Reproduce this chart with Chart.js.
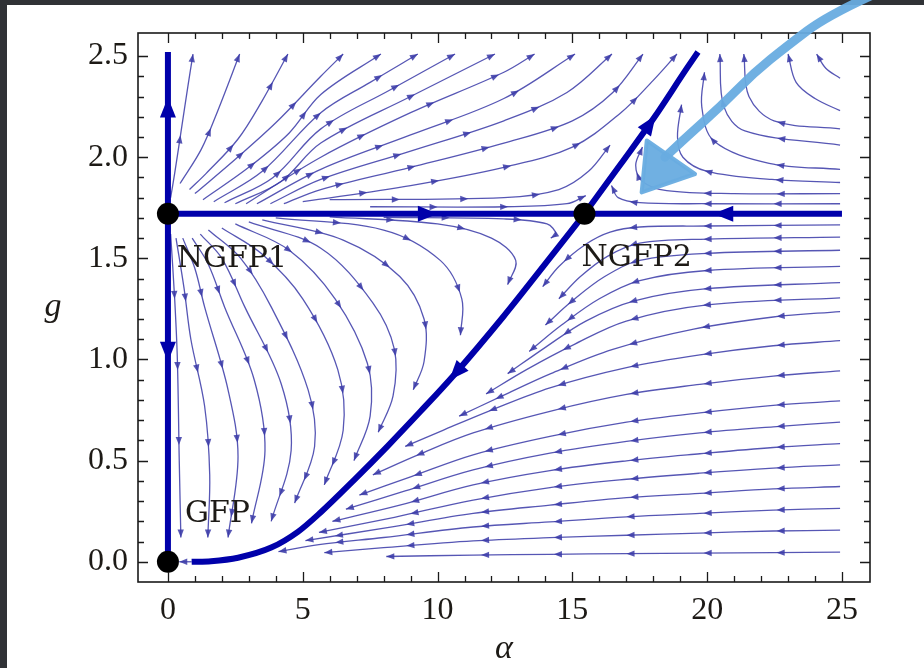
<!DOCTYPE html>
<html>
<head>
<meta charset="utf-8">
<script src="https://cdn.jsdelivr.net/npm/chart.js@4.4.1/dist/chart.umd.min.js"></script>
<style>
  html, body { margin: 0; padding: 0; background: #303236; }
  canvas { display: block; }
</style>
</head>
<body>
<canvas id="flow" width="924" height="668"></canvas>
<script>
// ---- axes ----
const alphaTicks = [0, 5, 10, 15, 20, 25];
const gTicks = [0, 0.5, 1.0, 1.5, 2.0, 2.5];
const alphaRange = [-1.11, 26.04];
const gRange = [-0.1, 2.614];

// ---- fixed points (alpha, g) ----
const pointNames = ['GFP', 'NGFP1', 'NGFP2'];
const pointAlpha = [0, 0, 15.45];
const pointG = [0, 1.72, 1.72];
// label anchors (left edge, baseline)
const labelAlpha = [0.63, 0.33, 15.34];
const labelG = [0.199, 1.458, 1.46];

// ---- invariant lines and separatrix, listed in flow direction ----
const axisUp = [[0, 1.72], [0, 2.52]];
const axisDown = [[0, 1.72], [0, 0]];
const gStarRight = [[0, 1.72], [15.45, 1.72]];
const gStarLeft = [[25, 1.72], [15.45, 1.72]];
const sepUp = [[15.45, 1.72], [16.79, 1.965], [18.03, 2.195], [19.25, 2.44], [19.66, 2.52]];
const sepDown = [[15.45, 1.72], [13.95, 1.465], [12.46, 1.215], [10.62, 0.925], [9.38, 0.745], [8.15, 0.572],
  [6.91, 0.405], [5.67, 0.245], [4.82, 0.148], [3.83, 0.07], [2.6, 0.02], [1.6, 0.003], [0.88, 0.0]];
// arrow tips on the thick lines
const thickArrowTips = [[0, 2.31], [0, 1.0], [10.1, 1.72], [20.35, 1.72], [18.1, 2.21], [10.45, 0.9]];

// ---- streamlines (alpha, g), each listed in flow direction ----
// leaving NGFP1 upwards, exiting through the top
const fanAbove = [
  [[0.1, 1.80], [0.25, 1.92], [0.49, 2.13], [0.74, 2.35], [0.93, 2.51]],
  [[0.45, 1.87], [1.24, 2.04], [1.85, 2.23], [2.66, 2.51]],
  [[0.8, 1.84], [1.42, 1.92], [2.6, 2.09], [3.5, 2.28], [4.45, 2.51]],
  [[1.0, 1.82], [2.5, 1.99], [4.0, 2.17], [5.67, 2.40], [6.5, 2.51]],
  [[1.3, 1.79], [3.0, 1.95], [4.5, 2.12], [5.67, 2.31], [7.9, 2.51]],
  [[1.7, 1.78], [3.5, 1.93], [5.67, 2.22], [7.5, 2.37], [9.27, 2.51]],
  [[2.1, 1.775], [3.9, 1.90], [5.67, 2.14], [8.2, 2.33], [10.65, 2.51]],
  [[2.5, 1.77], [4.2, 1.88], [5.67, 2.07], [9.0, 2.30], [12.13, 2.51]],
  [[2.9, 1.77], [5.67, 2.0], [9.0, 2.22], [12.46, 2.42], [13.6, 2.51]],
  [[3.3, 1.77], [5.67, 1.94], [9.0, 2.11], [12.46, 2.29], [15.1, 2.51]],
  [[3.8, 1.77], [5.67, 1.89], [9.0, 2.03], [12.46, 2.18], [14.8, 2.32], [16.47, 2.51]],
  [[4.3, 1.77], [5.67, 1.84], [9.0, 1.95], [12.46, 2.07], [15.0, 2.18], [16.5, 2.32], [17.62, 2.51]],
  [[5.0, 1.78], [9.0, 1.86], [12.46, 1.95], [15.0, 2.05], [16.8, 2.22], [18.0, 2.38], [18.88, 2.51]],
  [[6.0, 1.79], [12.46, 1.80], [14.5, 1.84], [15.6, 1.93], [16.4, 2.06]],
  [[7.5, 1.755], [12.5, 1.755], [14.8, 1.77], [15.5, 1.81]]
];
// coming in from large alpha above g*, turning up
const sweepAbove = [
  [[24.93, 2.39], [24.4, 2.44], [24.06, 2.51]],
  [[24.93, 2.23], [24.0, 2.29], [23.3, 2.37], [23.0, 2.51]],
  [[24.93, 2.14], [22.48, 2.18], [21.55, 2.30], [21.36, 2.51]],
  [[24.93, 2.06], [21.4, 2.13], [20.62, 2.25], [20.47, 2.51]],
  [[24.93, 1.94], [22.3, 1.97], [20.25, 2.08], [19.8, 2.25], [19.9, 2.42]],
  [[24.93, 1.875], [22.4, 1.89], [20.0, 1.93], [19.1, 2.0], [18.9, 2.1], [19.05, 2.26]],
  [[24.93, 1.82], [21, 1.82], [18.5, 1.835], [17.6, 1.88], [17.35, 1.96], [17.6, 2.05]],
  [[24.93, 1.77], [20, 1.77], [17.5, 1.775], [16.7, 1.80], [16.45, 1.86]]
];
// leaving NGFP1 downwards, bending back towards the GFP
const fanBelow = [
  [[0.1, 1.62], [0.25, 1.3], [0.35, 1.0], [0.42, 0.5], [0.48, 0.12]],
  [[0.3, 1.6], [0.6, 1.35], [0.85, 1.10], [1.36, 0.77], [1.55, 0.43], [1.48, 0.12]],
  [[0.55, 1.6], [1.0, 1.45], [1.36, 1.26], [2.23, 0.85], [2.6, 0.52], [2.23, 0.12]],
  [[0.9, 1.6], [1.5, 1.47], [2.1, 1.26], [3.2, 0.9], [3.6, 0.55], [3.1, 0.19]],
  [[1.2, 1.62], [2.0, 1.5], [2.85, 1.26], [4.2, 0.88], [4.57, 0.55], [3.83, 0.20]],
  [[1.5, 1.64], [2.7, 1.5], [3.83, 1.26], [5.2, 0.85], [5.44, 0.57], [4.7, 0.29]],
  [[2.0, 1.65], [3.5, 1.52], [5.0, 1.3], [6.3, 0.95], [6.5, 0.65], [5.8, 0.38]],
  [[2.5, 1.67], [4.5, 1.54], [6.2, 1.3], [7.4, 0.98], [7.5, 0.72], [6.9, 0.5]],
  [[3.0, 1.68], [5.67, 1.55], [7.6, 1.28], [8.4, 1.05], [8.35, 0.82], [7.8, 0.64]],
  [[3.5, 1.69], [6.5, 1.59], [8.6, 1.41], [9.5, 1.2], [9.5, 0.99], [9.1, 0.85]],
  [[4.0, 1.70], [8.0, 1.64], [10.1, 1.49], [10.9, 1.3], [10.85, 1.12]],
  [[6.0, 1.705], [10.0, 1.67], [12.0, 1.60], [12.9, 1.49], [12.6, 1.37]],
  [[8.0, 1.703], [12.46, 1.695], [14.06, 1.67], [14.4, 1.62], [14.2, 1.60]]
];
// coming in from large alpha below g*, drifting down towards the GFP
const sweepBelow = [
  [[24.93, 1.665], [20, 1.66], [17.5, 1.655], [16.4, 1.63], [15.5, 1.57], [14.5, 1.46], [13.9, 1.36]],
  [[24.93, 1.605], [20, 1.595], [17.5, 1.575], [16.3, 1.51], [15.3, 1.41], [14.5, 1.30]],
  [[24.93, 1.54], [20, 1.525], [17.5, 1.49], [16.2, 1.41], [15.0, 1.29], [14.0, 1.17]],
  [[24.93, 1.46], [20, 1.44], [17.5, 1.39], [16.0, 1.30], [14.6, 1.17], [13.4, 1.04]],
  [[24.93, 1.38], [20, 1.35], [17.3, 1.29], [15.5, 1.19], [14.0, 1.06], [12.6, 0.93]],
  [[24.93, 1.305], [20, 1.27], [17, 1.19], [15, 1.07], [13.3, 0.95], [11.8, 0.83]],
  [[24.93, 1.237], [22.45, 1.21], [19.5, 1.15], [16.5, 1.05], [14.2, 0.93], [12.4, 0.82], [10.8, 0.72]],
  [[24.93, 1.093], [22.45, 1.068], [19.73, 1.023], [17.01, 0.960], [14.17, 0.86], [12.0, 0.75], [10.2, 0.65], [8.8, 0.57]],
  [[24.93, 0.944], [22.45, 0.918], [19.73, 0.877], [17.01, 0.827], [14.17, 0.744], [11.32, 0.637], [9.3, 0.53], [7.6, 0.43]],
  [[24.93, 0.795], [22.45, 0.773], [19.73, 0.736], [17.01, 0.690], [14.17, 0.620], [11.32, 0.529], [9.0, 0.42], [7.1, 0.33]],
  [[24.93, 0.690], [22.45, 0.667], [19.73, 0.637], [17.01, 0.595], [14.17, 0.537], [11.32, 0.454], [8.8, 0.35], [6.6, 0.26]],
  [[24.93, 0.584], [22.45, 0.565], [19.73, 0.534], [17.01, 0.499], [14.17, 0.451], [11.32, 0.380], [8.6, 0.28], [6.1, 0.20]],
  [[24.93, 0.479], [22.45, 0.463], [19.73, 0.438], [17.01, 0.408], [14.17, 0.367], [11.32, 0.305], [8.4, 0.22], [5.6, 0.145]],
  [[24.93, 0.372], [22.45, 0.360], [19.73, 0.338], [17.01, 0.317], [14.17, 0.280], [11.32, 0.239], [8.2, 0.17], [5.1, 0.105]],
  [[24.93, 0.264], [22.45, 0.255], [19.73, 0.239], [17.01, 0.222], [14.17, 0.197], [11.32, 0.172], [8.0, 0.12], [5.6, 0.085], [4.1, 0.05]],
  [[24.93, 0.156], [22.45, 0.152], [19.73, 0.142], [17.01, 0.131], [14.17, 0.119], [11.32, 0.103], [8.0, 0.07], [5.8, 0.045]],
  [[24.93, 0.048], [22.45, 0.045], [19.73, 0.043], [17.01, 0.040], [14.17, 0.037], [11.32, 0.033], [8.1, 0.026]]
];
// last stretch into the GFP along g = 0
const intoGFP = [
  [[0.88, 0.0], [0.42, 0.0]]
];

// hand-drawn pointer (alpha, g), shaft then head
const pointerShaft = [[26.04, 2.796], [24.43, 2.697], [22.96, 2.549], [21.72, 2.416], [20.49, 2.25], [19.25, 2.101], [18.43, 2.0]];
const pointerHead = [[17.57, 1.826], [17.76, 2.083], [19.55, 1.917]];

// ---- styling ----
const thinColor = 'rgba(58,58,168,0.86)';
const thickColor = '#0000aa';
const tickFont = { family: '"Liberation Serif", "Times New Roman", serif', size: 32 };
const labelFont = '30px "DejaVu Serif", serif';
const titleFont = 'italic 34px "Liberation Serif", serif';
const inkColor = '#1d1a16';

const toXY = pts => pts.map(([a, g]) => ({ x: a, y: g }));

const datasets = [];
// fixed points drawn on top
datasets.push({
  data: pointAlpha.map((a, i) => ({ x: a, y: pointG[i] })),
  showLine: false, pointRadius: 11, pointHoverRadius: 11,
  pointBackgroundColor: '#000', pointBorderWidth: 0, clip: false
});
[axisUp, axisDown, gStarRight, gStarLeft].forEach(line => {
  datasets.push({
    data: toXY(line), showLine: true, pointRadius: 0, pointHoverRadius: 0,
    borderColor: thickColor, borderWidth: 6, tension: 0, arrowKind: 'thick'
  });
});
[sepUp, sepDown].forEach(line => {
  datasets.push({
    data: toXY(line), showLine: true, pointRadius: 0, pointHoverRadius: 0,
    borderColor: thickColor, borderWidth: 6, cubicInterpolationMode: 'monotone', arrowKind: 'thick'
  });
});
[fanAbove, sweepAbove, fanBelow, sweepBelow, intoGFP].forEach(group => group.forEach(line => {
  datasets.push({
    data: toXY(line), showLine: true, pointRadius: 0, pointHoverRadius: 0,
    borderColor: thinColor, borderWidth: 1.3, tension: 0.35, arrowKind: 'thin'
  });
}));

// ---- helpers ----
function samplePath(meta) {
  const pts = meta.data, out = [];
  for (let i = 0; i < pts.length; i++) {
    const p = pts[i];
    if (i === 0) { out.push([p.x, p.y]); continue; }
    const q = pts[i - 1];
    const c1x = q.cp2x ?? q.x, c1y = q.cp2y ?? q.y;
    const c2x = p.cp1x ?? p.x, c2y = p.cp1y ?? p.y;
    for (let k = 1; k <= 20; k++) {
      const t = k / 20, u = 1 - t;
      out.push([
        u * u * u * q.x + 3 * u * u * t * c1x + 3 * u * t * t * c2x + t * t * t * p.x,
        u * u * u * q.y + 3 * u * u * t * c1y + 3 * u * t * t * c2y + t * t * t * p.y
      ]);
    }
  }
  return out;
}
function arrowHead(ctx, x, y, ang, len, half, color) {
  const bx = x - len * Math.cos(ang), by = y - len * Math.sin(ang);
  const nx = -Math.sin(ang) * half, ny = Math.cos(ang) * half;
  ctx.beginPath();
  ctx.moveTo(x, y);
  ctx.lineTo(bx + nx, by + ny);
  ctx.lineTo(bx - nx, by - ny);
  ctx.closePath();
  ctx.fillStyle = color;
  ctx.fill();
}
function smoothStroke(ctx, pts) {
  ctx.beginPath();
  ctx.moveTo(pts[0][0], pts[0][1]);
  for (let i = 1; i < pts.length - 1; i++) {
    const mx = (pts[i][0] + pts[i + 1][0]) / 2, my = (pts[i][1] + pts[i + 1][1]) / 2;
    ctx.quadraticCurveTo(pts[i][0], pts[i][1], mx, my);
  }
  const last = pts[pts.length - 1];
  ctx.lineTo(last[0], last[1]);
  ctx.stroke();
}

const decor = {
  id: 'decor',
  beforeDraw(chart) {
    const { ctx, width, height } = chart;
    ctx.save();
    ctx.fillStyle = '#303236';
    ctx.fillRect(0, 0, width, height);
    ctx.fillStyle = '#ffffff';
    ctx.fillRect(7, 5, width - 7, height - 5);
    ctx.restore();
  },
  afterDatasetDraw(chart, args) {
    const ds = chart.data.datasets[args.index];
    if (!ds.arrowKind) return;
    const ctx = chart.ctx;
    const path = samplePath(args.meta);
    ctx.save();
    if (ds.arrowKind === 'thin') {
      const cum = [0];
      for (let i = 1; i < path.length; i++) {
        cum.push(cum[i - 1] + Math.hypot(path[i][0] - path[i - 1][0], path[i][1] - path[i - 1][1]));
      }
      const total = cum[cum.length - 1];
      const spots = [];
      for (let d = 62; d < total - 22; d += 74) spots.push(d);
      spots.push(total);
      spots.forEach(d => {
        let j = 1;
        while (j < cum.length - 1 && cum[j] < d) j++;
        const a = path[Math.max(j - 2, 0)], b = path[j];
        arrowHead(ctx, b[0], b[1], Math.atan2(b[1] - a[1], b[0] - a[0]), 8, 3.2, thinColor);
      });
    } else {
      const xs = chart.scales.x, ys = chart.scales.y;
      thickArrowTips.forEach(([a, g]) => {
        const px = xs.getPixelForValue(a), py = ys.getPixelForValue(g);
        let best = -1, bd = 1e9;
        path.forEach((p, i) => { const d = Math.hypot(p[0] - px, p[1] - py); if (d < bd) { bd = d; best = i; } });
        if (bd > 5) return;
        const p0 = path[Math.max(best - 3, 0)], p1 = path[Math.min(best + 3, path.length - 1)];
        arrowHead(ctx, path[best][0], path[best][1], Math.atan2(p1[1] - p0[1], p1[0] - p0[0]), 20, 8, thickColor);
      });
    }
    ctx.restore();
  },
  afterDraw(chart) {
    const { ctx, chartArea: ca } = chart;
    const xs = chart.scales.x, ys = chart.scales.y;
    ctx.save();
    // fixed point names
    ctx.font = labelFont;
    ctx.fillStyle = inkColor;
    ctx.textBaseline = 'alphabetic';
    ctx.textAlign = 'left';
    pointNames.forEach((n, i) => ctx.fillText(n, xs.getPixelForValue(labelAlpha[i]), ys.getPixelForValue(labelG[i])));

    // frame
    ctx.strokeStyle = '#1a1a1a';
    ctx.lineWidth = 1.6;
    ctx.strokeRect(ca.left, ca.top, ca.right - ca.left, ca.bottom - ca.top);
    // inward ticks on all four sides
    ctx.lineWidth = 1.3;
    ctx.beginPath();
    for (let v = 0; v <= 25; v++) {
      const L = v % 5 === 0 ? 10 : 6;
      const x = Math.round(xs.getPixelForValue(v)) + 0.5;
      ctx.moveTo(x, ca.bottom); ctx.lineTo(x, ca.bottom - L);
      ctx.moveTo(x, ca.top); ctx.lineTo(x, ca.top + L);
    }
    for (let k = 0; k <= 25; k++) {
      const L = k % 5 === 0 ? 10 : 6;
      const y = Math.round(ys.getPixelForValue(k / 10)) + 0.5;
      ctx.moveTo(ca.left, y); ctx.lineTo(ca.left + L, y);
      ctx.moveTo(ca.right, y); ctx.lineTo(ca.right - L, y);
    }
    ctx.stroke();

    // axis titles
    ctx.font = titleFont;
    ctx.fillStyle = inkColor;
    ctx.textAlign = 'center';
    ctx.fillText('g', ca.left - 85, ys.getPixelForValue(1.25) + 7);
    ctx.fillText('α', (ca.left + ca.right) / 2, ca.bottom + 76);

    // hand-drawn pointer
    const blue = 'rgba(104,172,224,0.95)';
    ctx.strokeStyle = blue;
    ctx.fillStyle = blue;
    ctx.lineWidth = 9;
    ctx.lineCap = 'round';
    ctx.lineJoin = 'round';
    smoothStroke(ctx, pointerShaft.map(([a, g]) => [xs.getPixelForValue(a), ys.getPixelForValue(g)]));
    ctx.beginPath();
    pointerHead.forEach(([a, g], i) => {
      const x = xs.getPixelForValue(a), y = ys.getPixelForValue(g);
      if (i === 0) ctx.moveTo(x, y); else ctx.lineTo(x, y);
    });
    ctx.closePath();
    ctx.fill();
    ctx.lineWidth = 4;
    ctx.stroke();
    ctx.restore();
  }
};

new Chart(document.getElementById('flow'), {
  type: 'scatter',
  data: { datasets },
  options: {
    responsive: false,
    devicePixelRatio: 1,
    animation: false,
    events: [],
    layout: { padding: { top: 33, right: 54, bottom: 0, left: 0 } },
    plugins: { legend: { display: false }, tooltip: { enabled: false } },
    scales: {
      x: {
        type: 'linear', min: alphaRange[0], max: alphaRange[1],
        afterBuildTicks: s => { s.ticks = alphaTicks.map(v => ({ value: v })); },
        afterFit: s => { s.height = 86; },
        grid: { display: false, drawTicks: false },
        border: { display: false },
        ticks: { font: tickFont, color: inkColor, padding: 9, maxRotation: 0, autoSkip: false, callback: v => String(v) }
      },
      y: {
        type: 'linear', min: gRange[0], max: gRange[1],
        afterBuildTicks: s => { s.ticks = gTicks.map(v => ({ value: v })); },
        afterFit: s => { s.width = 138; },
        grid: { display: false, drawTicks: false },
        border: { display: false },
        ticks: { font: tickFont, color: inkColor, padding: 10, autoSkip: false, callback: v => Number(v).toFixed(1) }
      }
    }
  },
  plugins: [decor]
});
</script>
</body>
</html>
